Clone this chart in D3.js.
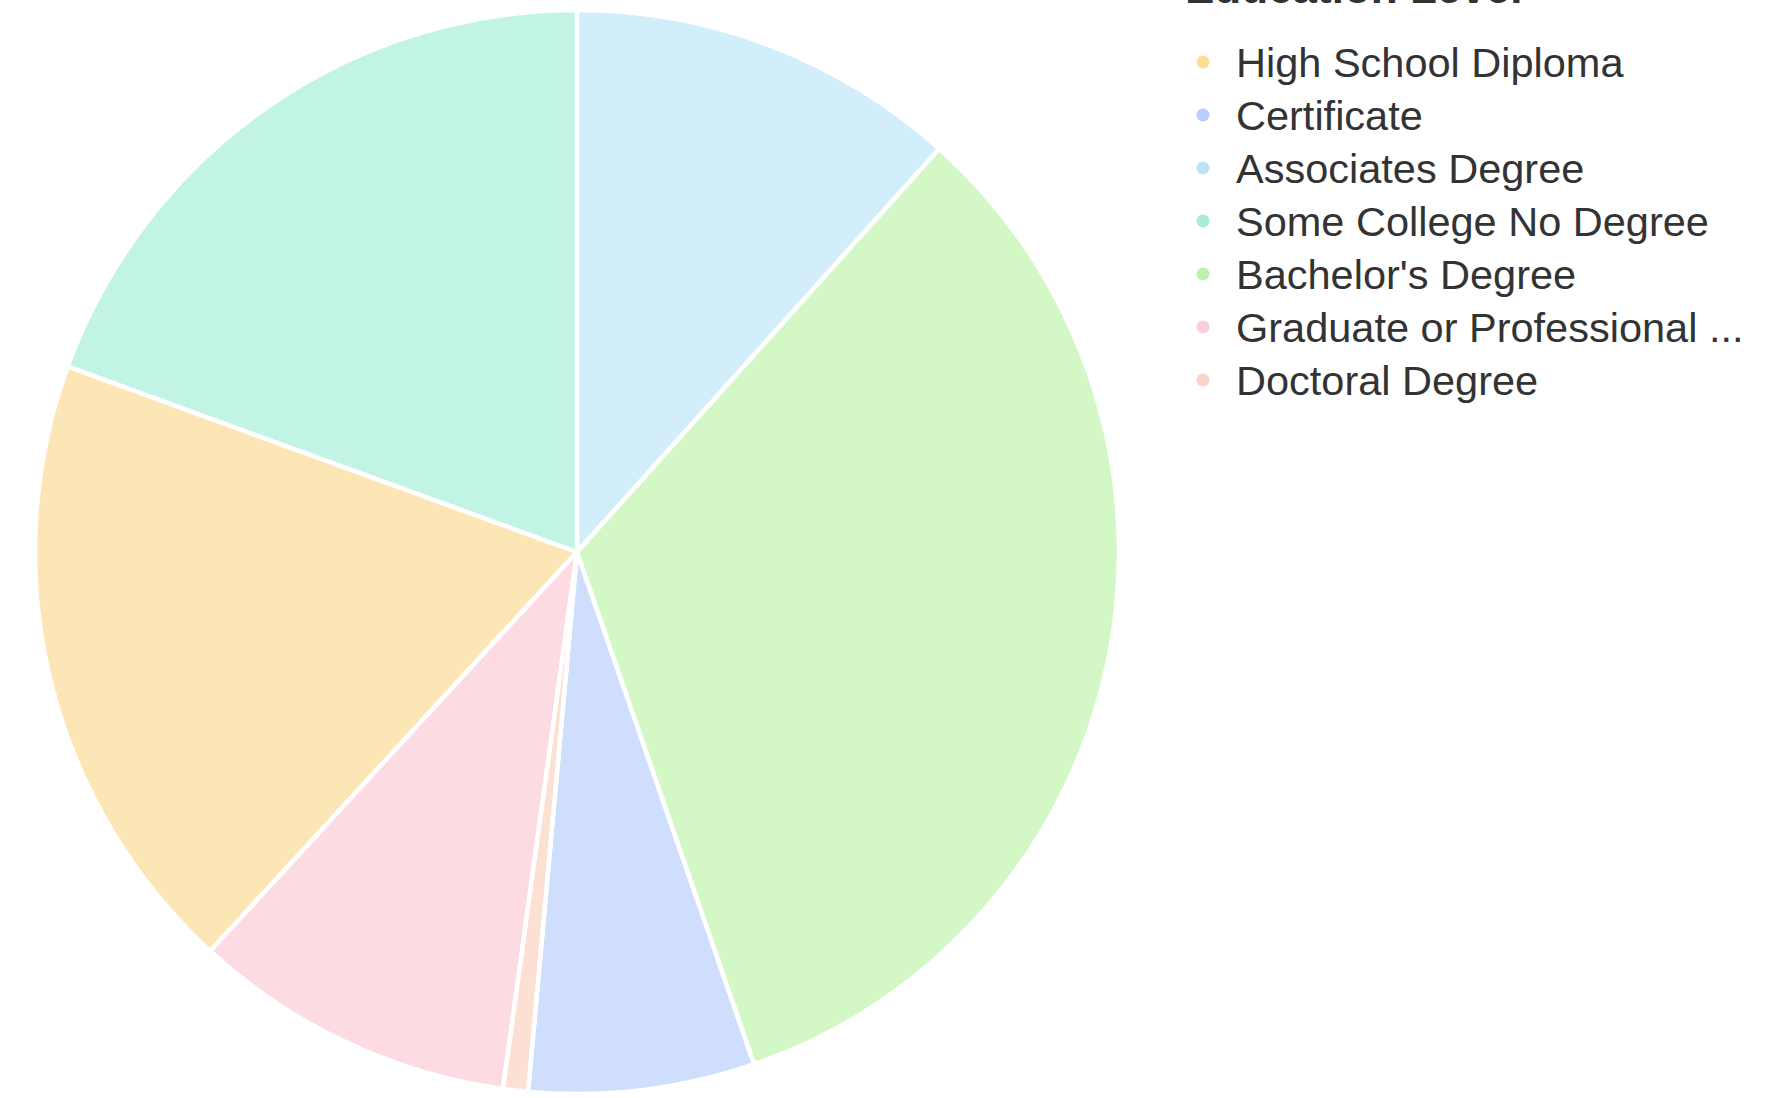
<!DOCTYPE html>
<html>
<head>
<meta charset="utf-8">
<script src="https://cdn.jsdelivr.net/npm/d3@7"></script>
<style>
    body { margin: 0; background: #fff; overflow: hidden; }
    .legend-label { font-family: "Liberation Sans", Arial, sans-serif; fill: #333; }
    .legend-title { font-family: "Liberation Sans", Arial, sans-serif; fill: #333; font-weight: bold; }
</style>
</head>
<body>
<div id="chart"></div>
<script>
// legend order (data order)
const categories = [
    'High School Diploma',
    'Certificate',
    'Associates Degree',
    'Some College No Degree',
    "Bachelor's Degree",
    'Graduate or Professional ...',
    'Doctoral Degree'
]
// share of respondents, %
const shares = [18.73, 6.74, 11.65, 19.44, 33.05, 9.65, 0.74]
const sliceColors = ['#fde6b6', '#cfdefc', '#d1eefa', '#c1f4e5', '#d3f7c5', '#fcdbe3', '#fde0d4']
const dotColors = ['#fbdd98', '#b8cdf8', '#bde2f7', '#a8ecd6', '#bdf0ae', '#fbcddc', '#fcd3c9']
const legendTitle = 'Education Level'

class PieChart {
    constructor(_config) {
        this.config = {
            parentElement: _config.parentElement,
            containerWidth: _config.containerWidth || 1767,
            containerHeight: _config.containerHeight || 1098,
            center: _config.center || { x: 577, y: 552 },
            radius: _config.radius || 542
        }
        this.initVis()
    }

    initVis() {
        let vis = this

        vis.svg = d3.select(vis.config.parentElement).append('svg')
            .attr('width', vis.config.containerWidth)
            .attr('height', vis.config.containerHeight)

        vis.chart = vis.svg.append('g')
            .attr('transform', `translate(${vis.config.center.x},${vis.config.center.y})`)

        vis.color = d3.scaleOrdinal().domain(categories).range(sliceColors)
        vis.dotColor = d3.scaleOrdinal().domain(categories).range(dotColors)

        // slices go clockwise from 12 o'clock, alphabetical by name
        vis.pie = d3.pie()
            .value(d => d.value)
            .sort((a, b) => d3.ascending(a.name, b.name))

        vis.arc = d3.arc()
            .innerRadius(0)
            .outerRadius(vis.config.radius)

        vis.legend = vis.svg.append('g')
            .attr('transform', 'translate(1203,62)')
    }

    updateVis() {
        let vis = this
        vis.data = categories.map((c, i) => ({ name: c, value: shares[i] }))
        vis.renderVis()
    }

    renderVis() {
        let vis = this

        vis.chart.selectAll('.slice')
            .data(vis.pie(vis.data))
            .join('path')
            .attr('class', 'slice')
            .attr('d', vis.arc)
            .attr('fill', d => vis.color(d.data.name))
            .attr('stroke', '#fff')
            .attr('stroke-width', 4.5)
            .attr('stroke-linejoin', 'round')

        // title sits mostly above the visible area, as in the source screenshot
        vis.legend.append('text')
            .attr('class', 'legend-title')
            .attr('x', -18)
            .attr('y', -59)
            .attr('font-size', 44)
            .text(legendTitle)

        let rows = vis.legend.selectAll('.legend-row')
            .data(categories)
            .join('g')
            .attr('class', 'legend-row')
            .attr('transform', (d, i) => `translate(0,${i * 53})`)

        rows.append('circle')
            .attr('r', 6.5)
            .attr('fill', d => vis.dotColor(d))

        rows.append('text')
            .attr('class', 'legend-label')
            .attr('x', 33)
            .attr('dy', '0.35em')
            .attr('font-size', 41.5)
            .text(d => d)
    }
}

let pieChart = new PieChart({ parentElement: '#chart' })
pieChart.updateVis()
</script>
</body>
</html>
